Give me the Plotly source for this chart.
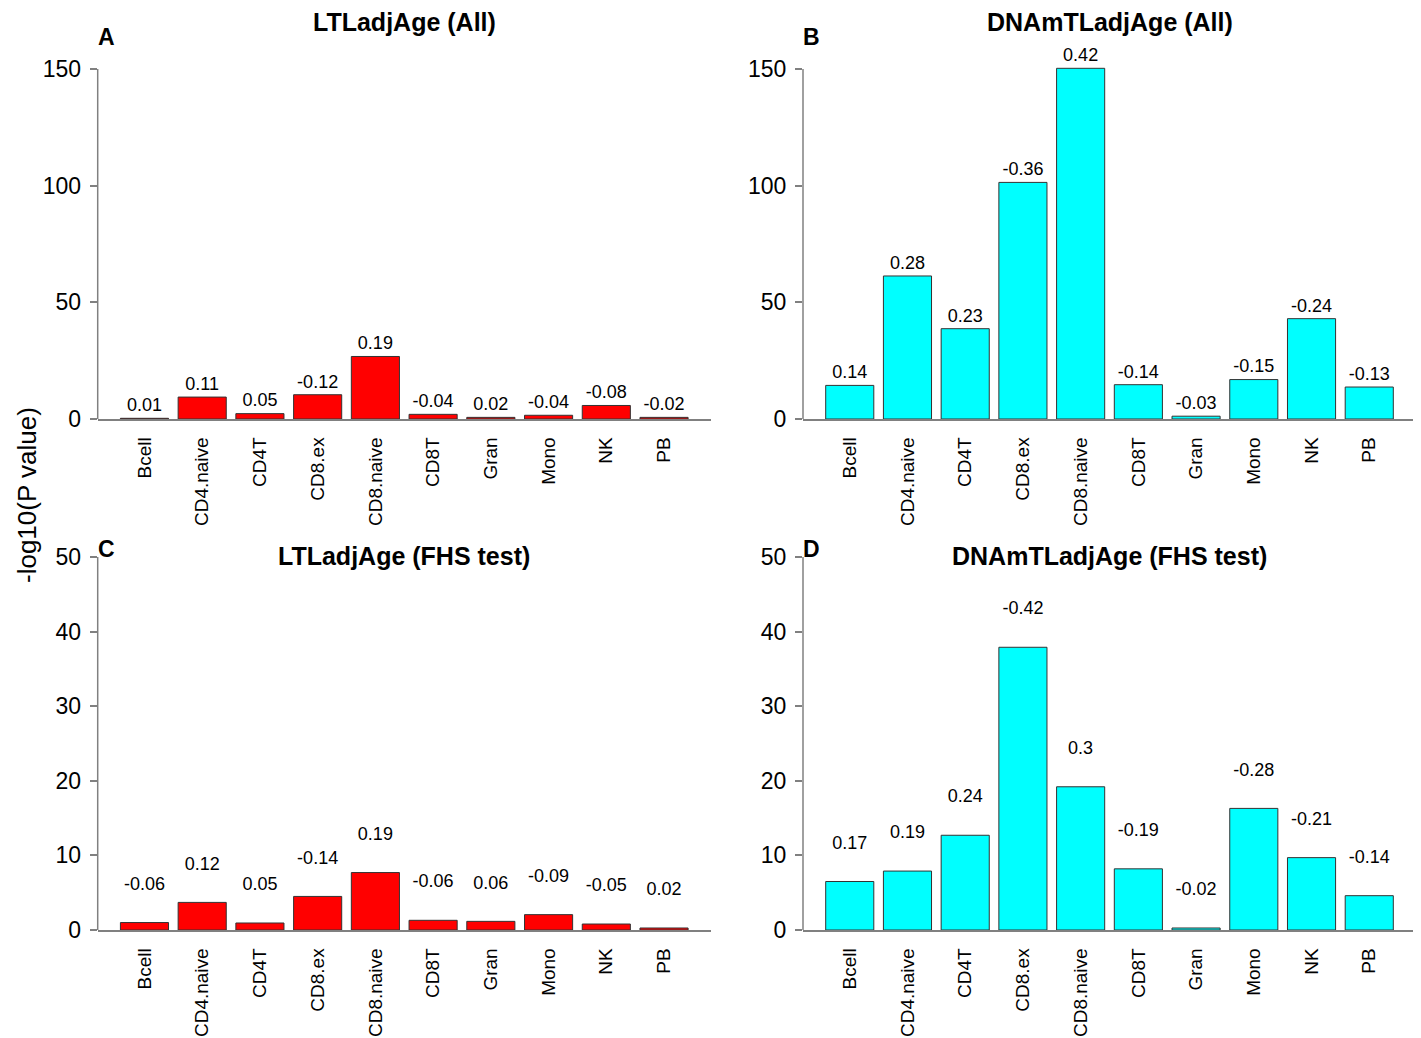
#!/usr/bin/env python3
import plotly.graph_objects as go

# cell types on the x axis
cells = ['Bcell', 'CD4.naive', 'CD4T', 'CD8.ex', 'CD8.naive',
         'CD8T', 'Gran', 'Mono', 'NK', 'PB']

# -log10(P value) per panel
ltl_all = [0.3, 9.4, 2.3, 10.4, 26.8, 2.0, 0.7, 1.6, 5.8, 0.7]
dnam_all = [14.4, 61.3, 38.7, 101.4, 150.3, 14.7, 1.2, 16.9, 43.0, 13.7]
ltl_fhs = [1.0, 3.7, 0.94, 4.5, 7.7, 1.3, 1.16, 2.06, 0.8, 0.27]
dnam_fhs = [6.5, 7.9, 12.7, 37.9, 19.2, 8.2, 0.27, 16.3, 9.7, 4.6]

# correlation labels printed above the bars
ltl_all_r = ['0.01', '0.11', '0.05', '-0.12', '0.19', '-0.04', '0.02', '-0.04', '-0.08', '-0.02']
dnam_all_r = ['0.14', '0.28', '0.23', '-0.36', '0.42', '-0.14', '-0.03', '-0.15', '-0.24', '-0.13']
ltl_fhs_r = ['-0.06', '0.12', '0.05', '-0.14', '0.19', '-0.06', '0.06', '-0.09', '-0.05', '0.02']
dnam_fhs_r = ['0.17', '0.19', '0.24', '-0.42', '0.3', '-0.19', '-0.02', '-0.28', '-0.21', '-0.14']

titles = ['LTLadjAge (All)', 'DNAmTLadjAge (All)', 'LTLadjAge (FHS test)', 'DNAmTLadjAge (FHS test)']
letters = ['A', 'B', 'C', 'D']

# page body has an 8px margin, so the figure is a bit smaller than the window
OFF = 8
W, H = 1421 - OFF, 1038 - OFF
FONT = 'Liberation Sans, Arial, sans-serif'
AXCOL = '#808080'


def px(x):
    return (x - OFF) / W


def py(y):
    return 1 - (y - OFF) / H


# panel boxes in window pixels: (left, right, y of zero, y of top tick)
boxes = [(97.7, 710.8, 419, 69), (803, 1416, 419, 69),
         (97.7, 710.8, 930, 557), (803, 1416, 930, 557)]
# title and panel-letter heights (window pixels)
title_y = [22, 22, 556, 556]
letter_y = [37, 37, 549, 549]

panels = [
    (ltl_all, ltl_all_r, 'red', [0, 50, 100, 150]),
    (dnam_all, dnam_all_r, 'cyan', [0, 50, 100, 150]),
    (ltl_fhs, ltl_fhs_r, 'red', [0, 10, 20, 30, 40, 50]),
    (dnam_fhs, dnam_fhs_r, 'cyan', [0, 10, 20, 30, 40, 50]),
]

fig = go.Figure()
annotations = []
shapes = []

for i, (vals, rlab, col, yticks) in enumerate(panels):
    n = '' if i == 0 else str(i + 1)
    xa, ya = 'x' + n, 'y' + n

    fig.add_trace(go.Bar(x=cells, y=vals, xaxis=xa, yaxis=ya,
                         marker=dict(color=col, line=dict(color='#333333', width=1)),
                         hoverinfo='x+y'))
    # labels sit 5 units above each bar
    fig.add_trace(go.Scatter(x=cells, y=[v + 5 for v in vals], xaxis=xa, yaxis=ya,
                             mode='text', text=rlab, cliponaxis=False,
                             textfont=dict(size=18, color='black', family=FONT),
                             hoverinfo='skip'))

    l, r, b, t = boxes[i]
    ymax = yticks[-1]
    # leave a little room above the top tick for the labels
    ytop = ymax * 1.1
    top_px = b - (b - t) * ytop / ymax

    fig.layout['xaxis' + n] = dict(
        domain=[px(l), px(r)], anchor=ya, type='category', automargin=False,
        range=[-0.81, 9.81], showline=True, linecolor=AXCOL, linewidth=1.5,
        ticks='', tickangle=-90, ticklabelstandoff=9,
        tickfont=dict(size=19, color='black', family=FONT),
        showgrid=False, zeroline=False, fixedrange=True)
    fig.layout['yaxis' + n] = dict(
        domain=[py(b), py(top_px)], anchor=xa, automargin=False,
        range=[0, ytop], tickvals=yticks, showline=False,
        ticks='outside', ticklen=7, tickwidth=1.5, tickcolor=AXCOL,
        ticklabelstandoff=4,
        tickfont=dict(size=23, color='black', family=FONT),
        showgrid=False, zeroline=False, fixedrange=True)

    # y axis line only runs from 0 to the top tick, as in base R
    shapes.append(dict(type='line', xref=xa + ' domain', yref=ya,
                       x0=0, x1=0, y0=0, y1=ymax,
                       line=dict(color=AXCOL, width=1.5)))

    annotations.append(dict(text='<b>' + titles[i] + '</b>', xref='paper', yref='paper',
                            x=px((l + r) / 2), y=py(title_y[i]), showarrow=False,
                            xanchor='center', yanchor='middle',
                            font=dict(size=25, color='black', family=FONT)))
    annotations.append(dict(text='<b>' + letters[i] + '</b>', xref='paper', yref='paper',
                            x=px(l + 8.5), y=py(letter_y[i]),
                            showarrow=False, xanchor='center', yanchor='middle',
                            font=dict(size=23, color='black', family=FONT)))

annotations.append(dict(text='-log10(P value)', xref='paper', yref='paper',
                        x=px(27), y=py(495), showarrow=False, textangle=-90,
                        xanchor='center', yanchor='middle',
                        font=dict(size=26, color='black', family=FONT)))

fig.update_layout(width=W, height=H, margin=dict(l=0, r=0, t=0, b=0),
                  bargap=1 - 1 / 1.2, showlegend=False,
                  plot_bgcolor='white', paper_bgcolor='white',
                  font=dict(family=FONT, color='black'),
                  annotations=annotations, shapes=shapes)

fig.write_html("out.html")
